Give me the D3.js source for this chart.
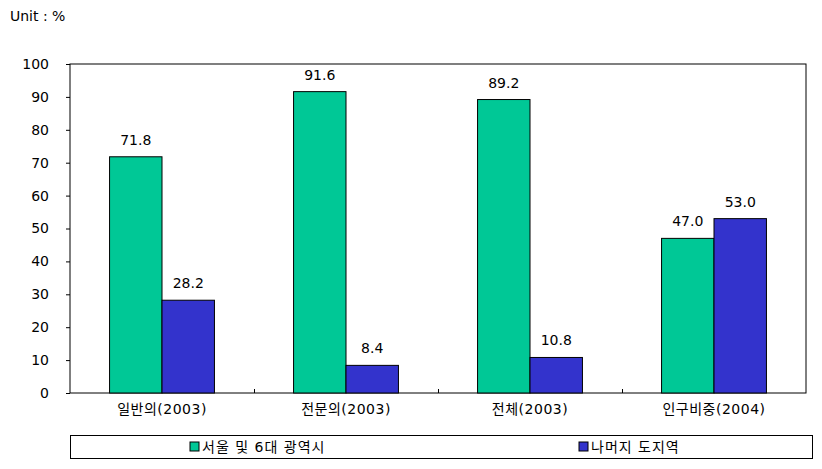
<!DOCTYPE html>
<html><head><meta charset="utf-8">
<script src="https://cdn.jsdelivr.net/npm/d3@7"></script>
<style>body{margin:0;background:#fff}svg{display:block}text{font-family:"DejaVu Sans","Noto Sans CJK KR",sans-serif;fill:#000}</style>
</head><body><svg id="c" width="822" height="469"></svg>
<script>
const categories = ["일반의(2003)","전문의(2003)","전체(2003)","인구비중(2004)"];
const seriesNames = ["서울 및 6대 광역시","나머지 도지역"];
const seoulValues = [71.8, 91.6, 89.2, 47.0];
const otherValues = [28.2, 8.4, 10.8, 53.0];
const yTicks = [0,10,20,30,40,50,60,70,80,90,100];
const colors = ["#00C896","#3333CC"];
const FONT = "'DejaVu Sans','Noto Sans CJK KR',sans-serif";

const svg = d3.select("#c");
const L=70, R=806, T=64, B=393;
const x = d3.scaleBand().domain(categories).range([L,R]);
const y = d3.scaleLinear().domain([0,100]).range([B,T]);
const barW = x.bandwidth()*0.285;

svg.append("text").attr("x",10).attr("y",21).attr("font-size",14).text("Unit : %");

svg.append("rect").attr("x",L).attr("y",T).attr("width",R-L).attr("height",B-T)
  .attr("fill","none").attr("stroke","#000").attr("stroke-width",1);

const yAxis = svg.append("g").attr("transform",`translate(${L},0)`)
  .call(d3.axisLeft(y).tickValues(yTicks).tickSize(4).tickPadding(17));
yAxis.select(".domain").remove();
yAxis.selectAll("text").attr("font-size",14).style("font-family",FONT);

const xAxis = svg.append("g").attr("transform",`translate(0,${B})`)
  .call(d3.axisBottom(x).tickSize(0).tickPadding(11));
xAxis.select(".domain").remove();
xAxis.selectAll("text").attr("font-size",14).attr("letter-spacing",0.5).style("font-family",FONT);
svg.append("g").selectAll("line").data(categories.slice(1)).join("line")
  .attr("x1",d=>x(d)+0.5).attr("x2",d=>x(d)+0.5).attr("y1",B).attr("y2",B-4).attr("stroke","#000");

const series = [seoulValues, otherValues];
series.forEach((vals,si)=>{
  const g = svg.append("g");
  g.selectAll("rect").data(vals).join("rect")
    .attr("x",(d,i)=>x(categories[i])+x.bandwidth()/2 - barW + si*barW)
    .attr("y",d=>y(d)).attr("width",barW).attr("height",d=>B-y(d))
    .attr("fill",colors[si]).attr("stroke","#000").attr("stroke-width",1);
  g.selectAll("text").data(vals).join("text")
    .attr("x",(d,i)=>x(categories[i])+x.bandwidth()/2 - barW/2 + si*barW)
    .attr("y",d=>y(d)-12).attr("text-anchor","middle").attr("font-size",14)
    .text(d=>d.toFixed(1));
});

svg.append("rect").attr("x",L+0.5).attr("y",435.5).attr("width",742).attr("height",23)
  .attr("fill","none").attr("stroke","#000");
const legX = [190, 579];
seriesNames.forEach((n,i)=>{
  svg.append("rect").attr("x",legX[i]).attr("y",442).attr("width",9).attr("height",9)
    .attr("fill",colors[i]).attr("stroke","#000");
  svg.append("text").attr("x",legX[i]+12).attr("y",452).attr("font-size",14).attr("letter-spacing",1).text(n);
});
</script></body></html>
